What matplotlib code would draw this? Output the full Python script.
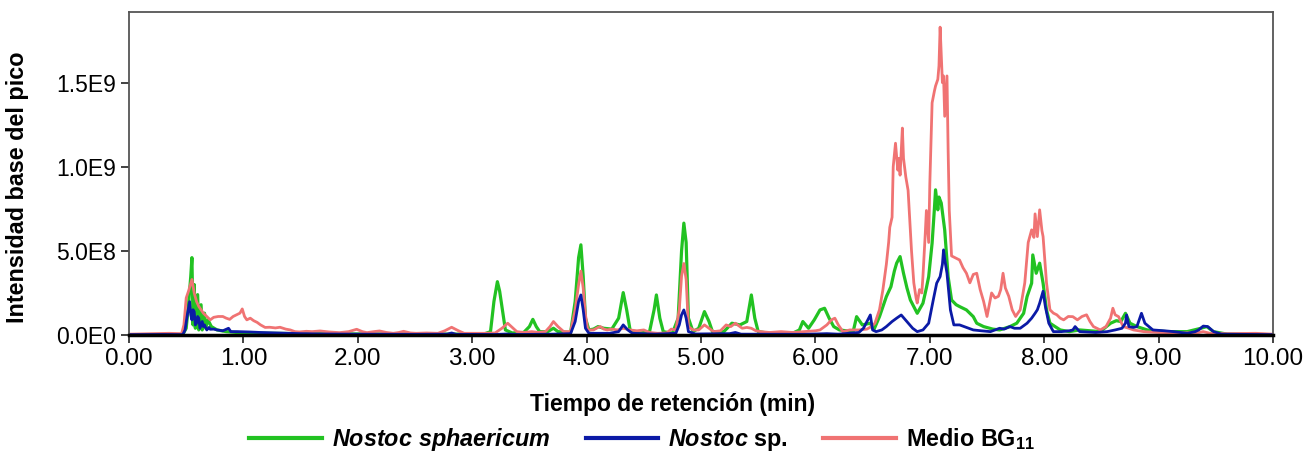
import matplotlib
matplotlib.use("Agg")
import matplotlib.pyplot as plt
import numpy as np
from matplotlib.ticker import FuncFormatter

plt.rcParams['font.family'] = ['Liberation Sans', 'DejaVu Sans']
plt.rcParams['mathtext.fontset'] = 'custom'
plt.rcParams['mathtext.rm'] = 'Liberation Sans:bold'
plt.rcParams['mathtext.it'] = 'Liberation Sans:bold:italic'
plt.rcParams['mathtext.bf'] = 'Liberation Sans:bold'

# retention time (min) and base peak intensity (x1E8)
bg11_t = [0.00, 0.20, 0.35, 0.46, 0.48, 0.50, 0.52, 0.55, 0.57, 0.59, 0.61, 0.63, 0.65, 0.68, 0.71,
          0.74, 0.78, 0.82, 0.85, 0.88, 0.91, 0.94, 0.97, 0.99, 1.01, 1.03, 1.06, 1.09, 1.12, 1.15,
          1.19, 1.23, 1.28, 1.32, 1.37, 1.41, 1.45, 1.49, 1.55, 1.60, 1.67, 1.75, 1.84, 1.92, 1.99,
          2.04, 2.08, 2.14, 2.19, 2.25, 2.31, 2.36, 2.40, 2.46, 2.51, 2.60, 2.70, 2.76, 2.82, 2.88,
          2.93, 3.00, 3.10, 3.20, 3.26, 3.31, 3.35, 3.39, 3.45, 3.52, 3.58, 3.64, 3.68, 3.71, 3.75,
          3.80, 3.86, 3.90, 3.93, 3.95, 3.97, 3.99, 4.01, 4.06, 4.10, 4.12, 4.15, 4.18, 4.22, 4.27,
          4.32, 4.38, 4.44, 4.50, 4.55, 4.62, 4.70, 4.74, 4.78, 4.81, 4.83, 4.85, 4.87, 4.89, 4.93,
          4.98, 5.03, 5.07, 5.11, 5.17, 5.22, 5.26, 5.30, 5.33, 5.36, 5.40, 5.44, 5.48, 5.52, 5.60,
          5.70, 5.80, 5.90, 6.00, 6.04, 6.10, 6.14, 6.17, 6.20, 6.24, 6.30, 6.38, 6.45, 6.49, 6.52,
          6.56, 6.59, 6.62, 6.64, 6.65, 6.67, 6.68, 6.70, 6.72, 6.73, 6.74, 6.76, 6.77, 6.79, 6.81,
          6.82, 6.84, 6.86, 6.88, 6.89, 6.91, 6.93, 6.94, 6.96, 6.97, 6.99, 7.00, 7.02, 7.04, 7.05,
          7.07, 7.08, 7.09, 7.11, 7.12, 7.13, 7.15, 7.16, 7.17, 7.19, 7.22, 7.26, 7.29, 7.32, 7.35,
          7.38, 7.41, 7.44, 7.47, 7.50, 7.52, 7.54, 7.57, 7.60, 7.62, 7.64, 7.66, 7.69, 7.72, 7.75,
          7.79, 7.81, 7.83, 7.86, 7.89, 7.91, 7.92, 7.94, 7.96, 7.98, 7.99, 8.02, 8.05, 8.08, 8.11,
          8.14, 8.17, 8.21, 8.25, 8.29, 8.33, 8.37, 8.40, 8.43, 8.49, 8.54, 8.58, 8.60, 8.62, 8.65,
          8.69, 8.74, 8.78, 8.87, 9.00, 9.20, 9.35, 9.39, 9.45, 9.60, 9.85, 10.00]
bg11_i = [0.05, 0.08, 0.10, 0.08, 0.6, 2.2, 2.6, 3.3, 2.5, 2.0, 1.7, 1.5, 1.3, 1.1, 0.9,
          1.05, 1.1, 1.1, 1.0, 0.93, 1.1, 1.2, 1.3, 1.55, 1.1, 0.9, 1.0, 0.85, 0.75, 0.6,
          0.45, 0.46, 0.42, 0.46, 0.35, 0.3, 0.2, 0.18, 0.22, 0.2, 0.24, 0.18, 0.14, 0.2, 0.34,
          0.2, 0.14, 0.2, 0.24, 0.15, 0.1, 0.15, 0.22, 0.12, 0.1, 0.12, 0.1, 0.25, 0.46, 0.25,
          0.1, 0.1, 0.1, 0.12, 0.4, 0.7, 0.45, 0.2, 0.15, 0.2, 0.15, 0.2, 0.5, 0.8, 0.5,
          0.2, 0.2, 1.5, 3.0, 3.8, 2.8, 1.2, 0.3, 0.3, 0.45, 0.5, 0.35, 0.3, 0.35, 0.3,
          0.4, 0.3, 0.25, 0.3, 0.15, 0.1, 0.12, 0.35, 0.3, 1.5, 3.5, 4.25, 3.3, 0.5, 0.3,
          0.3, 0.6, 0.4, 0.2, 0.25, 0.6, 0.5, 0.7, 0.55, 0.4, 0.45, 0.4, 0.25, 0.2, 0.15,
          0.2, 0.15, 0.2, 0.25, 0.3, 0.6, 0.9, 1.0, 0.6, 0.2, 0.3, 0.3, 0.35, 0.5, 0.7,
          1.5, 2.7, 4.2, 5.5, 6.4, 7.0, 10.0, 11.4, 9.8, 10.5, 9.5, 12.3, 10.5, 9.4, 8.6,
          7.4, 5.0, 3.1, 2.2, 1.9, 2.7, 2.5, 3.5, 6.0, 7.4, 5.5, 9.0, 13.8, 14.5, 14.8,
          15.2, 16.0, 18.3, 15.0, 15.4, 13.0, 15.4, 11.0, 7.4, 4.7, 4.6, 4.46, 4.0, 3.67, 3.1,
          3.6, 3.67, 2.7, 2.0, 1.1, 1.8, 2.5, 2.2, 2.3, 2.7, 3.67, 2.8, 2.3, 1.5, 1.1,
          1.5, 2.3, 3.1, 5.5, 6.25, 5.8, 7.2, 5.85, 7.44, 6.2, 5.85, 3.1, 1.5, 1.3, 1.2,
          1.0, 0.9, 1.1, 1.09, 0.9, 1.1, 1.2, 0.8, 0.5, 0.3, 0.5, 1.0, 1.59, 1.2, 1.09,
          0.5, 0.4, 0.3, 0.2, 0.15, 0.12, 0.15, 0.2, 0.1, 0.08, 0.1, 0.05]

sp_t = [0.00, 0.30, 0.47, 0.49, 0.51, 0.53, 0.54, 0.55, 0.56, 0.57, 0.58, 0.59, 0.60, 0.61, 0.62,
        0.64, 0.65, 0.66, 0.68, 0.70, 0.71, 0.74, 0.77, 0.82, 0.87, 0.89, 0.95, 1.05, 1.15, 1.30,
        1.50, 1.70, 2.00, 2.50, 2.78, 2.82, 2.86, 3.20, 3.30, 3.40, 3.70, 3.86, 3.90, 3.93, 3.95,
        3.97, 3.99, 4.02, 4.20, 4.28, 4.32, 4.36, 4.40, 4.60, 4.78, 4.81, 4.83, 4.85, 4.87, 4.89,
        4.95, 5.25, 5.30, 5.35, 5.90, 6.10, 6.20, 6.38, 6.42, 6.45, 6.48, 6.50, 6.53, 6.58, 6.62,
        6.67, 6.71, 6.75, 6.80, 6.85, 6.89, 6.94, 6.99, 7.01, 7.03, 7.06, 7.09, 7.11, 7.12, 7.13,
        7.15, 7.18, 7.21, 7.26, 7.32, 7.38, 7.45, 7.53, 7.57, 7.61, 7.65, 7.70, 7.74, 7.79, 7.85,
        7.89, 7.92, 7.94, 7.96, 7.99, 8.01, 8.04, 8.08, 8.15, 8.22, 8.25, 8.27, 8.31, 8.45, 8.55,
        8.62, 8.68, 8.71, 8.72, 8.74, 8.78, 8.81, 8.83, 8.85, 8.88, 8.95, 9.05, 9.13, 9.25, 9.32,
        9.35, 9.39, 9.43, 9.48, 9.55, 10.00]
sp_i = [0.02, 0.03, 0.02, 0.3, 1.2, 1.98, 1.2, 0.9, 1.5, 1.39, 0.6, 0.7, 1.1, 1.0, 0.4,
        0.8, 0.5, 0.6, 0.3, 0.45, 0.34, 0.35, 0.3, 0.25, 0.4, 0.2, 0.2, 0.18, 0.15, 0.12,
        0.08, 0.06, 0.05, 0.04, 0.05, 0.12, 0.04, 0.03, 0.06, 0.03, 0.05, 0.08, 0.8, 2.0, 2.38,
        1.5, 0.4, 0.1, 0.1, 0.2, 0.6, 0.3, 0.1, 0.05, 0.1, 0.6, 1.2, 1.49, 1.0, 0.2,
        0.06, 0.08, 0.15, 0.05, 0.04, 0.08, 0.05, 0.15, 0.4, 0.8, 1.19, 0.3, 0.2, 0.3, 0.5,
        0.8, 1.0, 1.19, 0.8, 0.4, 0.2, 0.3, 0.7, 1.4, 2.08, 3.08, 3.47, 4.2, 5.06, 4.5,
        3.67, 1.49, 0.6, 0.6, 0.45, 0.3, 0.25, 0.2, 0.3, 0.4, 0.35, 0.5, 0.4, 0.4, 0.7,
        1.0, 1.29, 1.5, 1.89, 2.6, 1.69, 0.7, 0.2, 0.2, 0.25, 0.3, 0.5, 0.2, 0.15, 0.2,
        0.3, 0.4, 0.7, 1.19, 0.5, 0.45, 0.5, 0.9, 1.29, 0.7, 0.3, 0.25, 0.2, 0.1, 0.2,
        0.3, 0.53, 0.5, 0.2, 0.05, 0.02]

sph_t = [0.00, 0.30, 0.47, 0.50, 0.52, 0.54, 0.55, 0.56, 0.57, 0.58, 0.60, 0.61, 0.63, 0.64, 0.66,
         0.67, 0.69, 0.72, 0.77, 0.85, 1.00, 1.50, 2.00, 2.80, 3.10, 3.16, 3.19, 3.22, 3.24, 3.26,
         3.29, 3.35, 3.45, 3.50, 3.53, 3.56, 3.59, 3.66, 3.71, 3.75, 3.86, 3.90, 3.93, 3.95, 3.97,
         3.99, 4.02, 4.06, 4.10, 4.15, 4.22, 4.28, 4.32, 4.35, 4.38, 4.45, 4.55, 4.59, 4.61, 4.64,
         4.67, 4.75, 4.80, 4.83, 4.85, 4.87, 4.89, 4.93, 4.98, 5.03, 5.07, 5.10, 5.20, 5.27, 5.34,
         5.40, 5.44, 5.47, 5.50, 5.60, 5.80, 5.86, 5.89, 5.94, 5.99, 6.04, 6.08, 6.12, 6.16, 6.21,
         6.33, 6.36, 6.41, 6.48, 6.51, 6.56, 6.62, 6.66, 6.69, 6.71, 6.74, 6.77, 6.80, 6.83, 6.89,
         6.94, 6.97, 6.99, 7.02, 7.04, 7.05, 7.07, 7.08, 7.10, 7.13, 7.16, 7.19, 7.23, 7.26, 7.32,
         7.38, 7.41, 7.47, 7.55, 7.61, 7.70, 7.76, 7.82, 7.85, 7.89, 7.90, 7.93, 7.96, 7.99, 8.02,
         8.05, 8.14, 8.22, 8.31, 8.49, 8.58, 8.63, 8.67, 8.71, 8.75, 8.81, 8.90, 9.07, 9.25, 9.37,
         9.42, 9.48, 9.60, 10.00]
sph_i = [0.02, 0.03, 0.02, 0.4, 1.8, 3.5, 4.6, 0.6, 3.0, 0.4, 2.4, 0.3, 1.8, 0.3, 1.3,
         0.4, 0.9, 0.5, 0.3, 0.2, 0.12, 0.08, 0.06, 0.05, 0.05, 0.2, 2.0, 3.17, 2.6, 1.69,
         0.3, 0.12, 0.15, 0.5, 0.93, 0.5, 0.2, 0.2, 0.4, 0.2, 0.15, 2.0, 4.6, 5.36, 3.5,
         1.0, 0.3, 0.35, 0.5, 0.4, 0.35, 1.0, 2.52, 1.5, 0.3, 0.1, 0.2, 1.5, 2.38, 1.0,
         0.2, 0.1, 1.0, 5.0, 6.65, 5.5, 1.0, 0.2, 0.4, 1.39, 0.8, 0.2, 0.2, 0.7, 0.6,
         0.8, 2.38, 1.0, 0.2, 0.1, 0.1, 0.3, 0.8, 0.4, 0.9, 1.49, 1.59, 1.0, 0.5, 0.3,
         0.2, 1.09, 0.6, 0.7, 0.3, 1.09, 2.28, 2.87, 3.8, 4.27, 4.66, 3.67, 2.8, 2.08, 1.29,
         1.89, 2.8, 3.47, 5.46, 7.5, 8.63, 7.44, 8.2, 7.84, 6.25, 3.47, 2.08, 1.8, 1.69, 1.49,
         1.09, 0.7, 0.5, 0.35, 0.3, 0.5, 0.7, 1.29, 2.28, 3.08, 4.76, 3.67, 4.27, 3.08, 1.49,
         0.7, 0.3, 0.2, 0.3, 0.2, 0.7, 0.85, 0.8, 1.29, 0.7, 0.5, 0.3, 0.2, 0.2, 0.4,
         0.5, 0.2, 0.05, 0.02]

x_ticks = [0, 1, 2, 3, 4, 5, 6, 7, 8, 9, 10]
y_ticks = [0, 5e8, 1e9, 1.5e9]

green = '#22c222'
blue = '#0b1aa6'
red = '#f07373'

fig = plt.figure(figsize=(13.03, 4.53), dpi=100)
ax = fig.add_axes([0.099, 0.2605, 0.878, 0.713])

ax.plot(sph_t, np.array(sph_i) * 1e8, color=green, lw=2.3, label=r'$\mathit{Nostoc\ sphaericum}$')
ax.plot(bg11_t, np.array(bg11_i) * 1e8, color=red, lw=2.0, label=r'Medio BG$_{\mathbf{11}}$')
ax.plot(sp_t, np.array(sp_i) * 1e8, color=blue, lw=2.0, label=r'$\mathit{Nostoc}$ sp.')

def sci_label(v, pos):
    if v == 0:
        return '0.0E0'
    e = int(np.floor(np.log10(v)))
    return '%.1fE%d' % (v / 10**e, e)

ax.yaxis.set_major_formatter(FuncFormatter(sci_label))
ax.set_yticks(y_ticks)
ax.set_xticks(x_ticks)
ax.xaxis.set_major_formatter(FuncFormatter(lambda v, p: '%.2f' % v))
ax.set_xlim(0, 10)
ax.set_ylim(0, 1.92e9)
ax.tick_params(axis='both', direction='out', length=6, width=1.3, color='#333333')
ax.tick_params(axis='x', labelsize=17.5)
ax.tick_params(axis='y', labelsize=16.5)

for s in ['top', 'right', 'left']:
    ax.spines[s].set_color('#555555')
    ax.spines[s].set_linewidth(1.3)
ax.spines['bottom'].set_color('black')
ax.spines['bottom'].set_linewidth(2.5)

ax.set_xlabel('Tiempo de retención (min)', fontsize=16.5, fontweight='bold')
ax.xaxis.set_label_coords(0.475, -0.18)
ax.set_ylabel('Intensidad base del pico', fontsize=16.8, fontweight='bold')
ax.yaxis.set_label_coords(-0.087, 0.458)

h, l = ax.get_legend_handles_labels()
order = [0, 2, 1]
leg = fig.legend([h[i] for i in order], [l[i] for i in order], loc='center', bbox_to_anchor=(0.493, 0.03),
                 ncol=3, frameon=False, handlelength=3.1, handletextpad=0.45, columnspacing=1.5,
                 prop={'weight': 'bold', 'size': 16.8})
for line in leg.get_lines():
    line.set_linewidth(3)

fig.savefig('out.png', dpi=100)
